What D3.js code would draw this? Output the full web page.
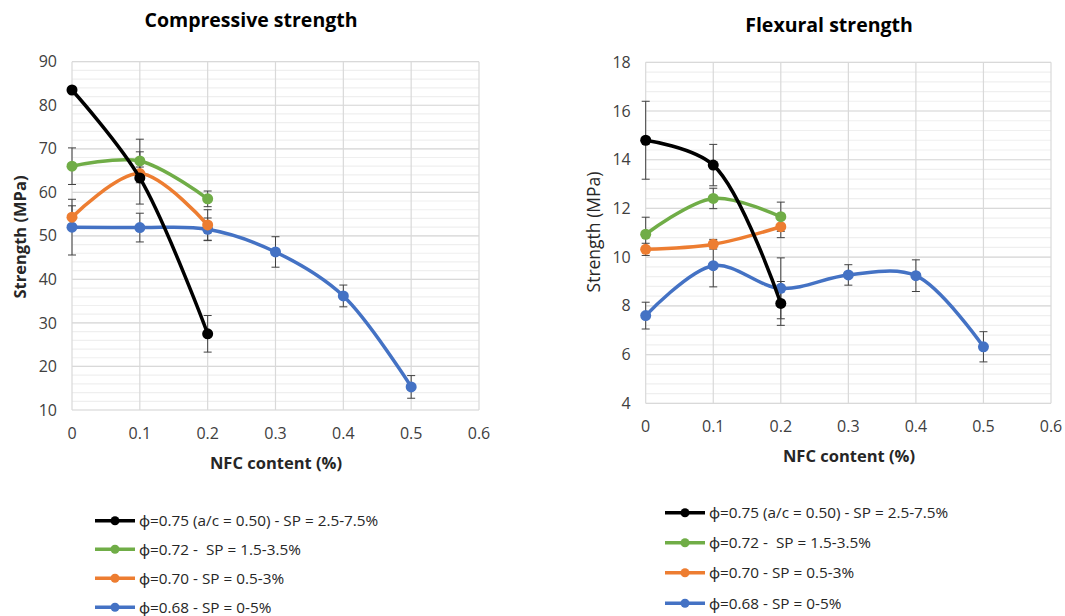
<!DOCTYPE html>
<html>
<head>
<meta charset="utf-8">
<script src="https://cdn.jsdelivr.net/npm/d3@7"></script>
<style>
  body { margin: 0; background: #fff; }
  svg { font-family: "Open Sans", "Noto Sans", sans-serif; }
  text { white-space: pre; }
</style>
</head>
<body>
<svg id="chart" width="1065" height="616"></svg>
<script>
// NFC content (%) for each point
const nfcBlack = [0, 0.1, 0.2];
const nfcGreen = [0, 0.1, 0.2];
const nfcOrange = [0, 0.1, 0.2];
const nfcBlue = [0, 0.1, 0.2, 0.3, 0.4, 0.5];

// compressive strength (MPa) and error half-widths
const compBlack = [83.5, 63.3, 27.5];
const compBlackErr = [0.7, 6.0, 4.2];
const compGreen = [66.0, 67.2, 58.5];
const compGreenErr = [4.2, 5.0, 1.8];
const compOrange = [54.3, 64.3, 52.5];
const compOrangeErr = [2.6, 1.5, 3.5];
const compBlue = [52.0, 51.9, 51.5, 46.3, 36.2, 15.3];
const compBlueErr = [6.4, 3.3, 2.6, 3.5, 2.5, 2.6];

// flexural strength (MPa) and error half-widths
const flexBlack = [14.8, 13.78, 8.1];
const flexBlackErr = [1.6, 0.85, 0.9];
const flexGreen = [10.94, 12.41, 11.66];
const flexGreenErr = [0.7, 0.42, 0.6];
const flexOrange = [10.32, 10.53, 11.25];
const flexOrangeErr = [0.25, 0.2, 0.45];
const flexBlue = [7.6, 9.65, 8.72, 9.27, 9.24, 6.32];
const flexBlueErr = [0.55, 0.87, 1.25, 0.42, 0.65, 0.62];

const xTicks = [0, 0.1, 0.2, 0.3, 0.4, 0.5, 0.6];
const compTicks = [10, 20, 30, 40, 50, 60, 70, 80, 90];
const flexTicks = [4, 6, 8, 10, 12, 14, 16, 18];

const seriesNames = [
  "ϕ=0.75 (a/c = 0.50) - SP = 2.5-7.5%",
  "ϕ=0.72 -  SP = 1.5-3.5%",
  "ϕ=0.70 - SP = 0.5-3%",
  "ϕ=0.68 - SP = 0-5%"
];
const seriesColors = ["#000000", "#70ad47", "#ed7d31", "#4472c4"];

function zipPts(xs, ys, es) {
  return xs.map((x, i) => ({x: x, y: ys[i], e: es[i]}));
}

const svg = d3.select("#chart");

function drawChart(cfg) {
  const x = d3.scaleLinear().domain([0, 0.6]).range([cfg.left, cfg.right]);
  const y = d3.scaleLinear().domain(cfg.yDomain).range([cfg.bottom, cfg.top]);
  const g = svg.append("g");

  // minor grid, 5 per major step
  const minorStep = (cfg.yTicks[1] - cfg.yTicks[0]) / 5;
  const minor = d3.range(cfg.yDomain[0], cfg.yDomain[1] + 1e-9, minorStep);
  g.selectAll(".minor").data(minor).join("line")
    .attr("x1", cfg.left).attr("x2", cfg.right)
    .attr("y1", d => y(d)).attr("y2", d => y(d))
    .attr("stroke", "#efefef").attr("stroke-width", 1.2);

  // major grid
  g.selectAll(".hmaj").data(cfg.yTicks).join("line")
    .attr("x1", cfg.left).attr("x2", cfg.right)
    .attr("y1", d => y(d)).attr("y2", d => y(d))
    .attr("stroke", "#d9d9d9").attr("stroke-width", 1.2);
  g.selectAll(".vmaj").data(xTicks).join("line")
    .attr("x1", d => x(d)).attr("x2", d => x(d))
    .attr("y1", cfg.top).attr("y2", cfg.bottom)
    .attr("stroke", "#d9d9d9").attr("stroke-width", 1.2);

  // tick labels
  g.selectAll(".yl").data(cfg.yTicks).join("text")
    .attr("x", cfg.left - 15).attr("y", d => y(d)).attr("dy", "0.35em")
    .attr("text-anchor", "end").attr("font-size", 16).attr("fill", "#404040")
    .text(d => d);
  g.selectAll(".xl").data(xTicks).join("text")
    .attr("x", d => x(d)).attr("y", cfg.bottom + cfg.xLabelGap).attr("dy", "0.35em")
    .attr("text-anchor", "middle").attr("font-size", 16).attr("fill", "#404040")
    .text(d => d);

  // titles
  g.append("text").attr("x", cfg.titleX).attr("y", cfg.titleY).attr("dy", "0.35em")
    .attr("text-anchor", "middle").attr("font-size", 19.5).attr("font-weight", "bold")
    .attr("fill", "#000").text(cfg.title);
  g.append("text").attr("x", cfg.xTitleX).attr("y", cfg.xTitleY).attr("dy", "0.35em")
    .attr("text-anchor", "middle").attr("font-size", 16.5).attr("font-weight", "bold")
    .attr("fill", "#262626").text("NFC content (%)");
  g.append("text")
    .attr("transform", `translate(${cfg.yTitleX},${cfg.yTitleY}) rotate(-90)`)
    .attr("dy", "0.35em")
    .attr("text-anchor", "middle").attr("font-size", cfg.yTitleBold ? 16.5 : 17.5)
    .attr("font-weight", cfg.yTitleBold ? "bold" : "normal")
    .attr("fill", "#262626").text("Strength (MPa)");

  const line = d3.line().x(d => x(d.x)).y(d => y(d.y)).curve(d3.curveCatmullRom.alpha(0.5));

  // error bars under the lines
  cfg.series.forEach(s => {
    const eb = g.append("g");
    s.pts.forEach(p => {
      const px = x(p.x);
      eb.append("line").attr("x1", px).attr("x2", px)
        .attr("y1", y(p.y - p.e)).attr("y2", y(p.y + p.e))
        .attr("stroke", "#404040").attr("stroke-width", 1);
      [p.y - p.e, p.y + p.e].forEach(v => {
        eb.append("line").attr("x1", px - 4).attr("x2", px + 4)
          .attr("y1", y(v)).attr("y2", y(v))
          .attr("stroke", "#404040").attr("stroke-width", 1);
      });
    });
  });

  cfg.series.slice().reverse().forEach(s => {
    g.append("path").datum(s.pts).attr("d", line)
      .attr("fill", "none").attr("stroke", s.color).attr("stroke-width", 3.5)
      .attr("stroke-linecap", "round");
    g.selectAll(null).data(s.pts).join("circle")
      .attr("cx", d => x(d.x)).attr("cy", d => y(d.y)).attr("r", 5.5)
      .attr("fill", s.color);
  });

  // legend
  const lg = g.append("g");
  seriesNames.forEach((name, i) => {
    const ly = cfg.legendY[i];
    lg.append("line").attr("x1", cfg.legendX).attr("x2", cfg.legendX + 40)
      .attr("y1", ly).attr("y2", ly).attr("stroke", seriesColors[i]).attr("stroke-width", 3.5);
    lg.append("circle").attr("cx", cfg.legendX + 20).attr("cy", ly).attr("r", 4.5)
      .attr("fill", seriesColors[i]);
    lg.append("text").attr("x", cfg.legendX + 44).attr("y", ly).attr("dy", "0.35em")
      .attr("font-size", 15.3).attr("fill", "#262626").text(name);
  });
}

function makeSeries(black, blackErr, green, greenErr, orange, orangeErr, blue, blueErr) {
  return [
    {color: seriesColors[0], pts: zipPts(nfcBlack, black, blackErr)},
    {color: seriesColors[1], pts: zipPts(nfcGreen, green, greenErr)},
    {color: seriesColors[2], pts: zipPts(nfcOrange, orange, orangeErr)},
    {color: seriesColors[3], pts: zipPts(nfcBlue, blue, blueErr)}
  ];
}

drawChart({
  title: "Compressive strength", titleX: 251, titleY: 20,
  left: 72, right: 479, top: 61.7, bottom: 410,
  yDomain: [10, 90], yTicks: compTicks, xLabelGap: 23,
  xTitleX: 276, xTitleY: 463, yTitleX: 20, yTitleY: 237, yTitleBold: true,
  legendX: 95, legendY: [520.7, 549.3, 578.3, 607.3],
  series: makeSeries(compBlack, compBlackErr, compGreen, compGreenErr,
    compOrange, compOrangeErr, compBlue, compBlueErr)
});

drawChart({
  title: "Flexural strength", titleX: 829, titleY: 25,
  left: 645.7, right: 1051, top: 62.3, bottom: 403.3,
  yDomain: [4, 18], yTicks: flexTicks, xLabelGap: 23,
  xTitleX: 849, xTitleY: 456, yTitleX: 594, yTitleY: 232, yTitleBold: false,
  legendX: 665, legendY: [512.7, 542.7, 572.7, 603.3],
  series: makeSeries(flexBlack, flexBlackErr, flexGreen, flexGreenErr,
    flexOrange, flexOrangeErr, flexBlue, flexBlueErr)
});
</script>
</body>
</html>
